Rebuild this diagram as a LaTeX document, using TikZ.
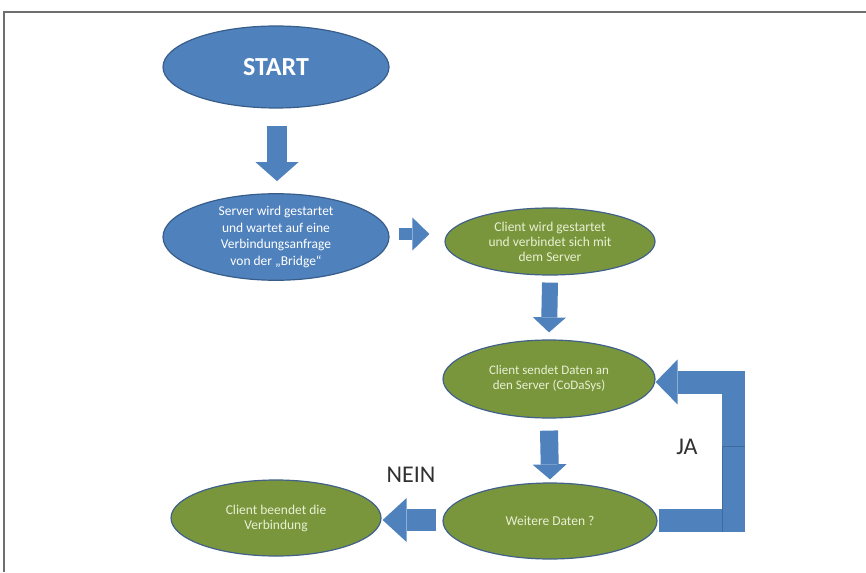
\documentclass[tikz,border=0pt]{standalone}
\usepackage{fontspec}
\setmainfont{Carlito}
\usetikzlibrary{shapes.geometric,arrows.meta}
\definecolor{bluefill}{HTML}{4F81BD}
\definecolor{blueline}{HTML}{385D8A}
\definecolor{greenfill}{HTML}{7A963C}
\definecolor{greenline}{HTML}{41618A}
\definecolor{greentext}{HTML}{E8F0D4}
\definecolor{arrowfill}{HTML}{4F81BD}
\definecolor{seam}{HTML}{3F6A9E}
\definecolor{labeltext}{HTML}{303030}
\definecolor{framecol}{HTML}{6E6E6E}
\tikzset{
  blueell/.style={ellipse, fill=bluefill, draw=blueline, line width=1.2pt, inner sep=0pt, text=white, align=center},
  greenell/.style={ellipse, fill=greenfill, draw=greenline, line width=1.2pt, inner sep=0pt, text=greentext, align=center},
  blk/.style={draw=arrowfill, line cap=butt},
  lbl/.style={text=labeltext, font=\fontsize{24}{26}\selectfont}
}
\begin{document}
\begin{tikzpicture}[x=1pt,y=1pt]
\useasboundingbox (0,0) rectangle (866,-572);
\draw[framecol, line width=1.3pt] (4,-572) -- (4,-12) -- (866,-12);

\node[blueell, minimum width=226pt, minimum height=82pt, font=\bfseries\fontsize{26}{28}\selectfont] (start) at (276,-67) {START};
\node[blueell, minimum width=226pt, minimum height=84pt, font=\fontsize{13.5}{16.5}\selectfont] (server) at (276,-237) {Server wird gestartet\\und wartet auf eine\\Verbindungsanfrage\\von der „Bridge“};
\node[greenell, minimum width=210pt, minimum height=67pt, font=\fontsize{13.5}{15}\selectfont] (client) at (550,-241.5) {Client wird gestartet\\und verbindet sich mit\\dem Server};
\node[greenell, minimum width=212pt, minimum height=78pt, font=\fontsize{13}{15}\selectfont] (sendet) at (549,-379) {Client sendet Daten an\\den Server (CoDaSys)};
\node[greenell, minimum width=214pt, minimum height=76pt, font=\fontsize{13.5}{15}\selectfont] (weitere) at (550,-521) {Weitere Daten ?};
\node[greenell, minimum width=210pt, minimum height=76pt, font=\fontsize{13.5}{15}\selectfont] (beendet) at (276,-518) {Client beendet die\\Verbindung};

\node[lbl] (nein) at (411,-475) {NEIN};
\node[lbl] (ja) at (687,-447) {JA};

% block arrows
\draw[blk, line width=20pt, -{Triangle[length=19pt, width=43pt, line width=0pt]}]
  ([xshift=1pt,yshift=-17pt]start.south) -- ([xshift=1pt,yshift=12pt]server.north);
\draw[blk, line width=12pt, -{Triangle[length=17pt, width=33pt, line width=0pt]}]
  ([xshift=9pt,yshift=3pt]server.east) -- ([xshift=-15pt,yshift=7.5pt]client.west);
\draw[blk, line width=16pt, -{Triangle[length=15pt, width=33pt, line width=0pt]}]
  ([yshift=-7pt]client.south) -- ([yshift=7pt]sendet.north);
\draw[blk, line width=18pt, -{Triangle[length=15pt, width=34pt, line width=0pt]}]
  ([yshift=-12pt]sendet.south) -- ([yshift=3pt]weitere.north);
\draw[blk, line width=22pt, -{Triangle[length=24pt, width=44pt, line width=0pt]}]
  ([xshift=-6pt,yshift=1pt]weitere.west) -- ([xshift=1pt,yshift=-2pt]beendet.east);
\draw[blk, line width=23pt, line join=miter, -{Triangle[length=22pt, width=45pt, line width=0pt]}]
  ([xshift=1pt,yshift=1pt]weitere.east) -- ++(75,0) coordinate (jacorner) |- ([yshift=-3pt]sendet.east);
% seams of the loop arrow
\draw[seam, line width=0.6pt] ([xshift=-11.5pt,yshift=74pt]jacorner) -- ([xshift=11.5pt,yshift=74pt]jacorner);
\draw[seam, line width=0.6pt] ([xshift=-11.5pt,yshift=74pt]jacorner) -- ([xshift=-11.5pt,yshift=-11.5pt]jacorner);
\end{tikzpicture}
\end{document}
